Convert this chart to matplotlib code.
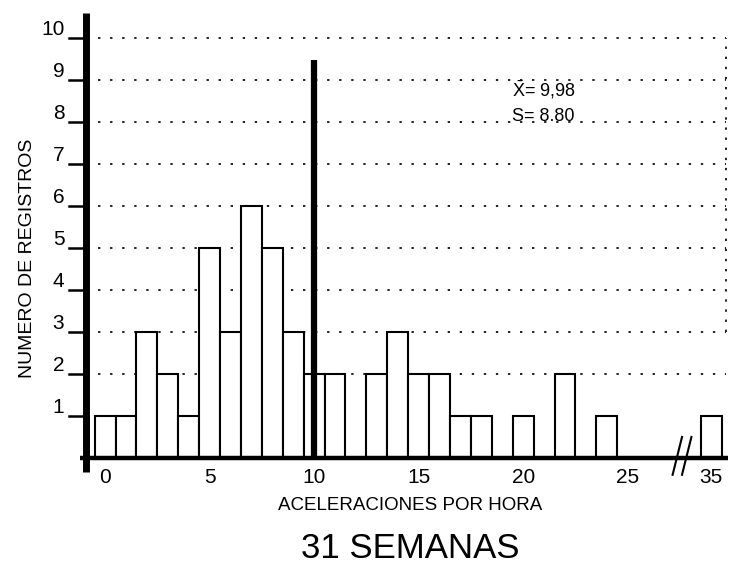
import matplotlib
matplotlib.use("Agg")
import matplotlib.pyplot as plt
import numpy as np

# ---- data ----
values = [0, 1, 2, 3, 4, 5, 6, 7, 8, 9, 10, 11, 13, 14, 15, 16, 17, 18, 20, 22, 24, 35]
counts = [1, 1, 3, 2, 1, 5, 3, 6, 5, 3, 2, 2, 2, 3, 2, 2, 1, 1, 1, 2, 1, 1]
x_tick_values = [0, 5, 10, 15, 20, 25, 35]
x_tick_labels = ['0', '5', '10', '15', '20', '25', '35']
y_ticks = [1, 2, 3, 4, 5, 6, 7, 8, 9, 10]
mean_value = 9.98
mean_text = r"$\bar{\mathrm{X}}$= 9,98"
sd_text = "S= 8.80"
x_label = "ACELERACIONES POR HORA"
y_label = "NUMERO DE REGISTROS"
title = "31 SEMANAS"
BREAK_FROM = 25
BREAK_SHIFT = 6

def pos(v):
    return v if v <= BREAK_FROM else v - BREAK_SHIFT

plt.rcParams['font.family'] = ['Liberation Sans', 'DejaVu Sans']
plt.rcParams['mathtext.fontset'] = 'custom'
plt.rcParams['mathtext.rm'] = 'Liberation Sans'
plt.rcParams['mathtext.it'] = 'Liberation Sans:italic'
plt.rcParams['mathtext.bf'] = 'Liberation Sans:bold'

fig = plt.figure(figsize=(7.30, 5.71), dpi=100)
ax = fig.add_axes([80/730, (571-475)/571, (728-80)/730, (475-10)/571])
ax.set_xlim(-1.2, 29.8)
ax.set_ylim(-0.405, 10.667)
ax.axis('off')

# dotted grid
for y in y_ticks[1:]:
    ax.plot([-0.9, 29.7], [y, y], color='#222222', lw=1.4,
            linestyle=(0, (1.2, 5)), zorder=1)
ax.plot([29.7, 29.7], [3, 10], color='#222222', lw=1.4,
        linestyle=(0, (1.2, 4)), zorder=1)

# bars
xs = [pos(v) for v in values]
ax.bar(xs, counts, width=1.0, color='white', edgecolor='black',
       linewidth=1.5, zorder=2)

# mean line
ax.plot([mean_value, mean_value], [0, 9.48], color='black', lw=4.5,
        solid_capstyle='butt', zorder=3)

# axes lines
ax.plot([-1.2, 29.8], [0, 0], color='black', lw=3.2,
        solid_capstyle='butt', clip_on=False, zorder=4)
ax.plot([-0.9, -0.9], [-0.33, 10.6], color='black', lw=5.0,
        solid_capstyle='butt', clip_on=False, zorder=4)

# y ticks and labels
for y in y_ticks:
    ax.plot([-1.75, -0.9], [y, y], color='black', lw=1.8, clip_on=False, zorder=4)
    ax.text(-1.95, y - 0.02, str(y), ha='right', va='bottom', fontsize=15,
            clip_on=False)

# x tick labels
for v, lab in zip(x_tick_values, x_tick_labels):
    ax.text(pos(v), -0.24, lab, ha='center', va='top', fontsize=15)

# break marks
for dx in (0.0, 0.45):
    ax.plot([27.15 + dx, 27.6 + dx], [-0.4, 0.5], color='black', lw=1.5,
            clip_on=False, zorder=5)

# stats text
ax.text(19.47, 8.6, mean_text, ha='left', va='baseline', fontsize=13)
ax.text(19.47, 8.03, sd_text, ha='left', va='baseline', fontsize=13)

# labels
fig.text(410/730, 1 - 505/571, x_label, ha='center', va='center', fontsize=13.5)
fig.text(410/730, 1 - 548/571, title, ha='center', va='center', fontsize=25)
fig.text(28/730, 1 - 258/571, y_label, ha='center', va='center',
         rotation=90, fontsize=14)

fig.savefig('out.png', dpi=100)
